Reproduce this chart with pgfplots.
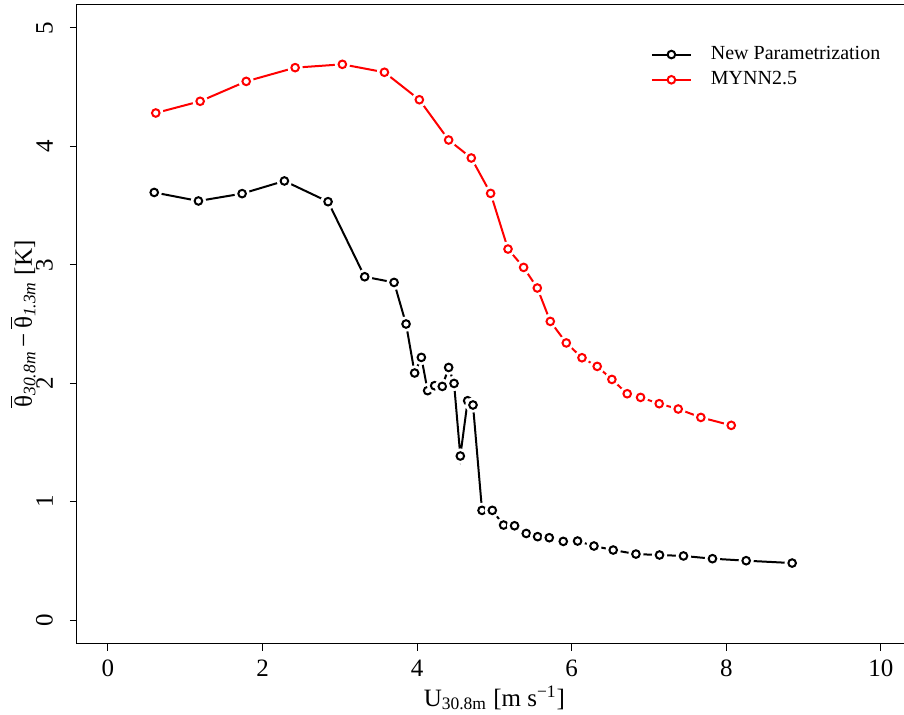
\documentclass[border=0pt]{standalone}
\usepackage{fontspec}
\setmainfont{Liberation Serif}
\usepackage{pgfplots}
\pgfplotsset{compat=1.18}

% R type="b": open circle with a white gap around it
\pgfdeclareplotmark{ring}{%
  \pgfpathcircle{\pgfpointorigin}{3.8pt}%
  \pgfsetfillcolor{white}\pgfusepathqfill
  \pgfpathcircle{\pgfpointorigin}{1.9pt}%
  \pgfusepathqstroke}

\newcommand\sub[1]{\ensuremath{_{\mbox{\fontsize{8.75}{10}\selectfont #1}}}}
\newcommand\supr[1]{\ensuremath{^{\mbox{\fontsize{8.75}{10}\selectfont #1}}}}

\begin{document}
\begin{tikzpicture}
\begin{axis}[
  scale only axis, width=417.4pt, height=319.7pt,
  xmin=-0.4, xmax=10.4, ymin=-0.2, ymax=5.2,
  xtick={0,2,...,10}, ytick={0,...,5},
  tick align=outside, xtick pos=bottom, ytick pos=left,
  major tick length=3.5pt,
  every tick/.style={black, line width=0.5pt},
  axis line style={line width=0.5pt},
  /pgf/number format/assume math mode=true,
  tick label style={font=\fontsize{12.5}{15}\selectfont},
  yticklabel style={rotate=90, anchor=south, yshift=5pt},
  xticklabel style={yshift=-1pt},
  label style={font=\fontsize{12.5}{15}\selectfont},
  xlabel={U\sub{30.8m} [m s\supr{−1}]},
  ylabel={$\overline{\mbox{θ}}$\sub{\itshape 30.8m}\,−\,$\overline{\mbox{θ}}$\sub{\itshape 1.3m} [K]},
  xlabel style={at={(axis description cs:0.5,-0.085)}, anchor=center},
  ylabel style={at={(axis description cs:-0.0647,0.5)}, anchor=center},
  legend style={draw=none, fill=none, at={(axis description cs:0.687,0.941)},
    anchor=north west, inner sep=0pt, row sep=0.5pt,
    font=\fontsize{10}{12}\selectfont,
    /tikz/every odd column/.append style={column sep=7.5pt}},
  legend cell align=left,
  legend image code/.code={%
    \draw[#1] (0pt,0pt) -- (19.5pt,0pt);
    \draw[#1, mark=*, mark options={fill=white}] plot coordinates {(9.75pt,0pt)};},
  every axis plot/.append style={line width=1pt, mark=ring, mark size=1.9pt},
]
\addplot[black] coordinates {
(0.599,3.611) (1.171,3.539) (1.736,3.601) (2.283,3.708) (2.848,3.533)
(3.322,2.899) (3.702,2.851) (3.857,2.500) (3.968,2.086) (4.055,2.218)
(4.136,1.937) (4.227,1.979) (4.326,1.973) (4.408,2.133) (4.478,1.998)
(4.559,1.385) (4.654,1.852) (4.723,1.816) (4.840,0.926) (4.973,0.926)
(5.119,0.802) (5.261,0.796) (5.412,0.731) (5.559,0.704) (5.710,0.695)
(5.891,0.664) (6.076,0.667) (6.288,0.625) (6.537,0.591) (6.831,0.557)
(7.136,0.549) (7.446,0.541) (7.821,0.518) (8.257,0.501) (8.852,0.481)
};
\addlegendentry{New Parametrization}
\addplot[red] coordinates {
(0.619,4.282) (1.193,4.381) (1.789,4.549) (2.422,4.665) (3.033,4.693)
(3.577,4.626) (4.029,4.394) (4.408,4.054) (4.701,3.902) (4.951,3.603)
(5.176,3.133) (5.378,2.978) (5.555,2.804) (5.723,2.522) (5.930,2.340)
(6.133,2.215) (6.330,2.142) (6.520,2.032) (6.718,1.911) (6.891,1.880)
(7.132,1.827) (7.378,1.782) (7.671,1.711) (8.064,1.644)
};
\addlegendentry{MYNN2.5}
\end{axis}
\pgfresetboundingbox
\useasboundingbox (-38.5pt,-35.65pt) rectangle (413.5pt,321.85pt);
\end{tikzpicture}
\end{document}
